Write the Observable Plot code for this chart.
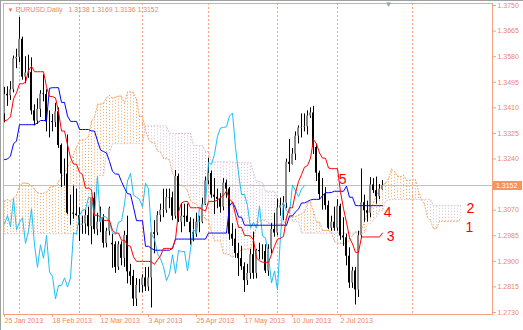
<!DOCTYPE html>
<html><head><meta charset="utf-8">
<script src="https://cdn.jsdelivr.net/npm/d3@7"></script>
<script src="https://cdn.jsdelivr.net/npm/@observablehq/plot@0.6"></script>
<style>
html,body{margin:0;padding:0;background:#fff;}
#chart{width:523px;height:330px;overflow:hidden;}
</style></head><body><div id="chart"></div>
<script>
// ---- Daily candles, 25 Jan 2013 .. 22 Jul 2013 (bar index 0..126) ----
const open = [1.3390,1.3455,1.3450,1.3470,1.3573,1.3578,1.3638,1.3512,1.3526,1.3527,
1.3400,1.3366,1.3405,1.3456,1.3454,1.3363,1.3364,1.3361,1.3397,1.3285,
1.3190,1.3190,1.3060,1.3060,1.3057,1.3052,1.3020,1.3024,1.3052,1.3015,
1.3109,1.3005,1.3030,1.3045,1.2960,1.3000,1.2960,1.2955,1.2880,1.2955,
1.2910,1.2986,1.2865,1.2850,1.2775,1.2820,1.2820,1.2845,1.2815,1.2845,
1.2995,1.2995,1.3053,1.3070,1.3070,1.3112,1.3111,1.3050,1.3182,1.3030,
1.3050,1.3050,1.3030,1.2995,1.2990,1.3030,1.3030,1.3090,1.3167,1.3192,
1.3120,1.3113,1.3106,1.3080,1.3160,1.3140,1.2990,1.2974,1.2926,1.2909,
1.2882,1.2836,1.2860,1.2922,1.2860,1.2936,1.2932,1.2933,1.2868,1.2940,
1.3006,1.2994,1.3077,1.3085,1.3093,1.3229,1.3222,1.3256,1.3316,1.3343,
1.3345,1.3347,1.3383,1.3393,1.3278,1.3193,1.3122,1.3122,1.3085,1.3010,
1.3030,1.3010,1.3083,1.2984,1.2978,1.2917,1.2828,1.2868,1.2805,1.2985,
1.3095,1.3068,1.3060,1.3154,1.3135,1.3115,1.3138];
const high = [1.3478,1.3480,1.3497,1.3582,1.3605,1.3710,1.3645,1.3580,1.3585,1.3576,
1.3420,1.3440,1.3467,1.3520,1.3470,1.3400,1.3388,1.3425,1.3410,1.3290,
1.3240,1.3320,1.3120,1.3150,1.3140,1.3078,1.3050,1.3070,1.3080,1.3110,
1.3128,1.3060,1.3080,1.3055,1.3010,1.3080,1.2990,1.2965,1.2965,1.2965,
1.3000,1.3050,1.2890,1.2870,1.2843,1.2840,1.2855,1.2880,1.2880,1.2995,
1.3035,1.3065,1.3090,1.3140,1.3140,1.3140,1.3130,1.3202,1.3190,1.3090,
1.3090,1.3090,1.3045,1.3040,1.3060,1.3050,1.3110,1.3180,1.3243,1.3200,
1.3175,1.3140,1.3125,1.3175,1.3170,1.3145,1.3025,1.3007,1.2960,1.2950,
1.2895,1.2890,1.2940,1.2997,1.2940,1.2960,1.2955,1.2955,1.2955,1.3025,
1.3060,1.3107,1.3110,1.3115,1.3240,1.3305,1.3275,1.3330,1.3350,1.3390,
1.3390,1.3400,1.3410,1.3415,1.3290,1.3200,1.3175,1.3145,1.3100,1.3050,
1.3080,1.3105,1.3090,1.3045,1.2990,1.2945,1.2880,1.2880,1.3000,1.3207,
1.3120,1.3100,1.3178,1.3175,1.3180,1.3155,1.3169];
const low = [1.3360,1.3415,1.3435,1.3460,1.3540,1.3560,1.3502,1.3490,1.3508,1.3386,
1.3350,1.3355,1.3378,1.3430,1.3330,1.3310,1.3330,1.3345,1.3275,1.3145,
1.3150,1.3055,1.3020,1.3040,1.3050,1.2966,1.2990,1.2990,1.2985,1.2955,
1.2990,1.2985,1.2995,1.2944,1.2945,1.2985,1.2877,1.2860,1.2870,1.2885,
1.2880,1.2825,1.2820,1.2750,1.2750,1.2795,1.2795,1.2800,1.2800,1.2745,
1.2925,1.2985,1.3030,1.3045,1.3060,1.3075,1.3035,1.3040,1.3030,1.2995,
1.3015,1.3030,1.2954,1.2965,1.2980,1.2995,1.3025,1.3085,1.3155,1.3110,
1.3055,1.3075,1.3060,1.3068,1.3110,1.2970,1.2950,1.2910,1.2850,1.2870,
1.2797,1.2820,1.2840,1.2840,1.2842,1.2905,1.2905,1.2860,1.2850,1.2925,
1.2980,1.2985,1.3050,1.3035,1.3075,1.3195,1.3220,1.3235,1.3290,1.3310,
1.3330,1.3320,1.3375,1.3255,1.3165,1.3105,1.3070,1.3070,1.3005,1.3000,
1.3000,1.3000,1.2970,1.2950,1.2885,1.2810,1.2810,1.2755,1.2780,1.2975,
1.3030,1.3030,1.3045,1.3125,1.3090,1.3105,1.3136];
const close = [1.3455,1.3450,1.3470,1.3573,1.3578,1.3638,1.3512,1.3526,1.3527,1.3400,
1.3366,1.3405,1.3456,1.3454,1.3363,1.3364,1.3361,1.3397,1.3285,1.3190,
1.3190,1.3060,1.3060,1.3057,1.3052,1.3020,1.3024,1.3052,1.3015,1.3109,
1.3005,1.3030,1.3045,1.2960,1.3000,1.3075,1.2955,1.2880,1.2955,1.2910,
1.2986,1.2865,1.2850,1.2775,1.2820,1.2820,1.2845,1.2815,1.2845,1.2995,
1.2990,1.3053,1.3070,1.3072,1.3112,1.3111,1.3050,1.3182,1.3030,1.3050,
1.3046,1.3030,1.2995,1.2990,1.3030,1.3034,1.3090,1.3167,1.3192,1.3120,
1.3113,1.3106,1.3080,1.3160,1.3140,1.2990,1.2974,1.2926,1.2909,1.2882,
1.2836,1.2860,1.2922,1.2860,1.2936,1.2932,1.2933,1.2868,1.2940,1.3006,
1.2994,1.3077,1.3085,1.3093,1.3229,1.3222,1.3256,1.3316,1.3343,1.3345,
1.3347,1.3383,1.3393,1.3278,1.3193,1.3122,1.3122,1.3085,1.3010,1.3030,
1.3010,1.3083,1.2984,1.2978,1.2917,1.2828,1.2868,1.2805,1.2985,1.3095,
1.3068,1.3060,1.3154,1.3135,1.3115,1.3140,1.3152];

// ---- Ichimoku lines (per bar) ----
const tenkan = [1.3367,1.3370,1.3380,1.3440,1.3460,1.3490,1.3490,1.3495,1.3534,1.3548,
1.3530,1.3530,1.3530,1.3530,1.3480,1.3448,1.3448,1.3443,1.3398,1.3333,
1.3333,1.3288,1.3245,1.3223,1.3223,1.3196,1.3188,1.3143,1.3143,1.3138,
1.3053,1.3053,1.3048,1.3036,1.3036,1.3036,1.3003,1.2994,1.2994,1.2970,
1.2970,1.2953,1.2950,1.2915,1.2900,1.2900,1.2900,1.2900,1.2900,1.2898,
1.2890,1.2905,1.2918,1.2943,1.2943,1.2943,1.2943,1.2974,1.3064,1.3094,
1.3099,1.3099,1.3078,1.3078,1.3078,1.3078,1.3072,1.3067,1.3099,1.3099,
1.3099,1.3104,1.3112,1.3119,1.3134,1.3107,1.3097,1.3055,1.3013,1.3013,
1.2986,1.2986,1.2984,1.2971,1.2911,1.2902,1.2897,1.2897,1.2897,1.2923,
1.2950,1.2974,1.2976,1.2983,1.3045,1.3078,1.3078,1.3128,1.3165,1.3188,
1.3213,1.3218,1.3243,1.3305,1.3290,1.3260,1.3243,1.3243,1.3210,1.3208,
1.3208,1.3208,1.3130,1.3075,1.3030,1.2978,1.2958,1.2930,1.2930,1.2981,
1.2981,1.2981,1.2981,1.2981,1.2981,1.2981,1.2994];
const kijun = [1.3238,1.3240,1.3250,1.3290,1.3300,1.3354,1.3354,1.3354,1.3354,1.3354,
1.3354,1.3360,1.3368,1.3368,1.3368,1.3475,1.3477,1.3477,1.3477,1.3428,
1.3428,1.3383,1.3365,1.3365,1.3365,1.3338,1.3338,1.3338,1.3338,1.3333,
1.3333,1.3300,1.3270,1.3265,1.3260,1.3232,1.3199,1.3190,1.3190,1.3165,
1.3143,1.3125,1.3123,1.3080,1.3035,1.3035,1.3035,1.2950,1.2950,1.2943,
1.2937,1.2937,1.2937,1.2937,1.2937,1.2937,1.2943,1.2974,1.2974,1.2974,
1.2974,1.2974,1.2974,1.2974,1.2974,1.2974,1.2974,1.2974,1.2994,1.2994,
1.2994,1.2994,1.2994,1.2994,1.2994,1.3084,1.3097,1.3077,1.3047,1.3047,
1.3020,1.3020,1.3020,1.3020,1.3020,1.3020,1.3020,1.3020,1.3020,1.3020,
1.3020,1.3020,1.3020,1.3020,1.3019,1.3051,1.3051,1.3064,1.3074,1.3094,
1.3094,1.3099,1.3104,1.3106,1.3106,1.3106,1.3118,1.3128,1.3128,1.3129,
1.3133,1.3133,1.3133,1.3133,1.3150,1.3113,1.3113,1.3085,1.3085,1.3085,
1.3085,1.3085,1.3085,1.3085,1.3085,1.3085,1.3085];
// Senkou spans, already placed 26 bars ahead (index 0..152)
const senkouA = [1.3100,1.3105,1.3100,1.3110,1.3120,1.3150,1.3160,1.3160,1.3158,1.3150,
1.3140,1.3128,1.3125,1.3126,1.3130,1.3145,1.3148,1.3150,1.3165,1.3180,
1.3195,1.3212,1.3230,1.3255,1.3280,1.3300,
1.3303,1.3305,1.3315,1.3365,1.3380,1.3422,1.3422,1.3425,1.3444,1.3451,
1.3442,1.3445,1.3449,1.3449,1.3424,1.3462,1.3463,1.3460,1.3438,1.3381,
1.3381,1.3336,1.3305,1.3294,1.3294,1.3267,1.3263,1.3241,1.3241,1.3236,
1.3193,1.3177,1.3159,1.3151,1.3148,1.3134,1.3101,1.3092,1.3092,1.3068,
1.3057,1.3039,1.3037,1.2998,1.2968,1.2968,1.2968,1.2925,1.2925,1.2921,
1.2914,1.2921,1.2928,1.2940,1.2940,1.2940,1.2943,1.2974,1.3019,1.3034,
1.3037,1.3037,1.3026,1.3026,1.3026,1.3026,1.3023,1.3021,1.3047,1.3047,
1.3047,1.3049,1.3053,1.3057,1.3064,1.3096,1.3097,1.3066,1.3030,1.3030,
1.3003,1.3003,1.3002,1.2996,1.2966,1.2961,1.2959,1.2959,1.2959,1.2972,
1.2985,1.2997,1.2998,1.3002,1.3032,1.3065,1.3065,1.3096,1.3120,1.3141,
1.3154,1.3159,1.3174,1.3206,1.3198,1.3183,1.3181,1.3186,1.3169,1.3169,
1.3171,1.3171,1.3132,1.3104,1.3090,1.3046,1.3036,1.3008,1.3008,1.3033,
1.3033,1.3033,1.3033,1.3033,1.3033,1.3033,1.3040];
const senkouB = [1.2992,1.2992,1.2992,1.2992,1.2992,1.2992,1.2992,1.2992,1.2992,1.2992,
1.2992,1.2992,1.2992,1.2992,1.2992,1.2992,1.2992,1.2992,1.2992,1.2992,
1.2992,1.2992,1.2992,1.2992,1.2992,1.2992,
1.3070,1.3070,1.3080,1.3120,1.3133,1.3185,1.3185,1.3185,1.3260,1.3260,
1.3291,1.3291,1.3291,1.3291,1.3291,1.3291,1.3291,1.3291,1.3291,1.3291,
1.3291,1.3350,1.3350,1.3350,1.3350,1.3350,1.3350,1.3350,1.3350,1.3325,
1.3325,1.3325,1.3325,1.3325,1.3325,1.3325,1.3325,1.3285,1.3285,1.3285,
1.3285,1.3265,1.3265,1.3230,1.3230,1.3230,1.3230,1.3230,1.3230,1.3230,
1.3230,1.3228,1.3228,1.3228,1.3228,1.3228,1.3228,1.3195,1.3165,1.3165,
1.3161,1.3133,1.3133,1.3133,1.3133,1.3108,1.3085,1.3085,1.3085,1.3078,
1.3033,1.3033,1.3033,1.2994,1.2994,1.2994,1.2994,1.2994,1.2994,1.2994,
1.2994,1.2994,1.2994,1.2994,1.2994,1.2994,1.2994,1.2994,1.2994,1.2994,
1.2994,1.2994,1.2994,1.2994,1.2994,1.3025,1.3025,1.3038,1.3048,1.3068,
1.3068,1.3099,1.3104,1.3106,1.3106,1.3106,1.3106,1.3106,1.3106,1.3106,
1.3106,1.3106,1.3106,1.3106,1.3106,1.3106,1.3106,1.3085,1.3085,1.3085,
1.3085,1.3085,1.3085,1.3085,1.3085,1.3085,1.3085];
const chikouShift = 26;

// ---- axes / annotations ----
const priceTicks = [1.3750,1.3665,1.3580,1.3495,1.3410,1.3325,1.3240,1.3070,1.2985,1.2900,1.2815,1.2730];
const dateBars = [0,16,32,48,64,80,96,112];
const dateLabels = ["25 Jan 2013","18 Feb 2013","12 Mar 2013","3 Apr 2013","25 Apr 2013","17 May 2013","10 Jun 2013","2 Jul 2013"];
const separatorBars = [5,25,46,68,91,111,136];
const markTexts = ["1","2","3","4","5"];
const markBars = [155.0,155.3,128.7,127.7,112.7];
const markPrices = [1.3013,1.3074,1.2982,1.3062,1.3172];
const symbolName = "EURUSD,Daily";
const ohlcText = "1.3138 1.3169 1.3136 1.3152";
const lastPrice = 1.3152;
const shiftMarkerBar = 128;

const C_AXIS = "#f7a07c", C_TEXT = "#f08560", C_SEP = "#f7a585";
const C_SA = "#f4a460", C_SB = "#d8bfd8";

const bars = open.map((o, i) => ({i, o, h: high[i], l: low[i], c: close[i], up: close[i] >= o}));
const cloud = senkouA.map((a, j) => ({j, a, b: senkouB[j]}));
const chikou = close.slice(chikouShift).map((c, k) => ({k, c}));
const marks = markTexts.map((t, k) => ({t, x: markBars[k], y: markPrices[k]}));

const plot = Plot.plot({
  width: 523, height: 330,
  marginLeft: 3, marginRight: 31, marginTop: 3, marginBottom: 16,
  style: {fontFamily: "'Liberation Sans', Arial, sans-serif", fontSize: "7px", background: "#fff", overflow: "visible"},
  x: {type: "linear", domain: [-1/3, 488/3], axis: null},
  y: {type: "linear", domain: [1.27234, 1.37567], axis: null},
  marks: [
    // cloud (dotted vertical hatching)
    Plot.ruleX(cloud, {x: "j", y1: "a", y2: "b", stroke: d => d.a >= d.b ? C_SA : C_SB, strokeWidth: 1, strokeDasharray: "1,2"}),
    Plot.line(cloud, {x: "j", y: "a", stroke: C_SA, strokeWidth: 1, strokeDasharray: "1,2"}),
    Plot.line(cloud, {x: "j", y: "b", stroke: C_SB, strokeWidth: 1, strokeDasharray: "1,2"}),
    // period separators
    Plot.ruleX(separatorBars, {x: d => d, stroke: C_SEP, strokeWidth: 1, strokeDasharray: "2,2"}),
    // current price line
    Plot.ruleY([lastPrice], {stroke: "#c0c0c0", strokeWidth: 1}),
    // candles
    Plot.ruleX(bars, {x: "i", y1: "l", y2: "h", stroke: "#000", strokeWidth: 1}),
    Plot.rect(bars, {x1: d => d.i - 1/3, x2: d => d.i + 1/3, y1: "o", y2: "c", fill: d => d.up ? "#8a8a8a" : "#000"}),
    // Ichimoku lines
    Plot.line(chikou, {x: "k", y: "c", stroke: "#1ebef5", strokeWidth: 1}),
    Plot.line(kijun, {x: (d, i) => i, y: d => d, stroke: "#0000ff", strokeWidth: 1}),
    Plot.line(tenkan, {x: (d, i) => i, y: d => d, stroke: "#ff0000", strokeWidth: 1}),
    // frame and axes
    Plot.frame({stroke: C_AXIS}),
    Plot.axisY(priceTicks, {anchor: "right", tickFormat: d => d.toFixed(4), tickSize: 3, tickPadding: 2, stroke: C_AXIS, fill: C_TEXT, fontSize: 7}),
    Plot.axisX(dateBars, {anchor: "bottom", tickFormat: d => dateLabels[dateBars.indexOf(d)], tickSize: 3, tickPadding: 1, textAnchor: "start", stroke: C_AXIS, fill: C_TEXT, fontSize: 7}),
    // annotations
    Plot.text(marks, {x: "x", y: "y", text: "t", fill: "#ff0000", fontSize: 14}),
    Plot.text([symbolName], {frameAnchor: "top-left", dx: 12, dy: 3, lineAnchor: "top", textAnchor: "start", fill: C_TEXT, fontSize: 7.5}),
    Plot.text([ohlcText], {frameAnchor: "top-left", dx: 65, dy: 3, lineAnchor: "top", textAnchor: "start", fill: C_TEXT, fontSize: 7.5}),
    Plot.text(["\u25BC"], {frameAnchor: "top-left", dx: 4, dy: 4, lineAnchor: "top", textAnchor: "start", fill: "#f07050", fontSize: 6}),
    Plot.text([shiftMarkerBar], {x: d => d, frameAnchor: "top", dy: -2, lineAnchor: "top", text: () => "\u25BC", fill: "#a0a0a0", fontSize: 8})
  ]
});

const svg = d3.select(plot);
// fit the header texts to the widths they take in the terminal header
svg.selectAll("text").each(function() {
  const t = this.textContent;
  if (t === symbolName) d3.select(this).attr("textLength", 47).attr("lengthAdjust", "spacingAndGlyphs");
  if (t === ohlcText) d3.select(this).attr("textLength", 90).attr("lengthAdjust", "spacingAndGlyphs");
});

// current price box on the price scale
const ys = plot.scale("y"), xs = plot.scale("x");
const py = ys.apply(lastPrice), px = xs.range[1];
const g = svg.append("g").attr("font-family", "'Liberation Sans', Arial, sans-serif");
g.append("rect").attr("x", px + 1).attr("y", Math.round(py) - 4).attr("width", 29).attr("height", 9).attr("fill", "#f8925f");
g.append("text").attr("x", px + 4).attr("y", Math.round(py) + 0.5).attr("dy", "0.35em").attr("fill", "#ffffff")
  .attr("font-size", 7).attr("text-anchor", "start").text(lastPrice.toFixed(4));
// window border
svg.append("line").attr("x1", 0).attr("x2", 523).attr("y1", 0.5).attr("y2", 0.5).attr("stroke", "#a0a0a0");
svg.append("line").attr("x1", 0.5).attr("x2", 0.5).attr("y1", 0).attr("y2", 330).attr("stroke", "#a0a0a0");
document.getElementById("chart").appendChild(plot);
</script></body></html>
